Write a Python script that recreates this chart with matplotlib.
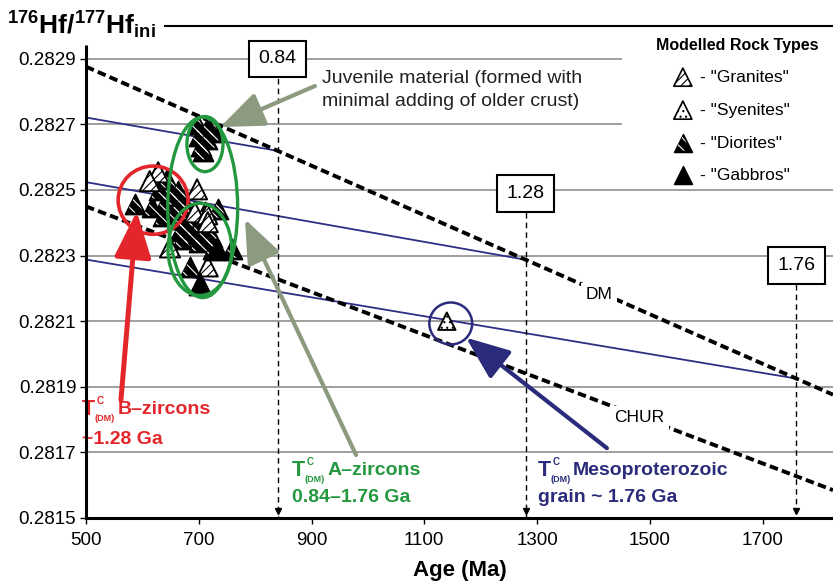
import numpy as np
import matplotlib
matplotlib.use('Agg')
import matplotlib.pyplot as plt
from matplotlib.patches import Ellipse, Rectangle

plt.rcParams['font.family'] = ['Liberation Sans', 'DejaVu Sans']
plt.rcParams['mathtext.fontset'] = 'custom'
plt.rcParams['mathtext.rm'] = 'Liberation Sans'
plt.rcParams['mathtext.bf'] = 'Liberation Sans:bold'
plt.rcParams['mathtext.it'] = 'Liberation Sans:italic'
plt.rcParams['hatch.linewidth'] = 0.8

# ---------------- data ----------------
x_ticks = [500, 700, 900, 1100, 1300, 1500, 1700]
y_ticks = [0.2815, 0.2817, 0.2819, 0.2821, 0.2823, 0.2825, 0.2827, 0.2829]
y_tick_labels = ['0.2815', '0.2817', '0.2819', '0.2821', '0.2823', '0.2825', '0.2827', '0.2829']

dm_age = [500, 1825]
dm_hf = [0.282876, 0.281876]
chur_age = [500, 1825]
chur_hf = [0.282450, 0.281585]

crust_age_start = [500, 500, 500]
crust_hf_start = [0.282721, 0.282524, 0.282288]
tdm_ages = [840, 1280, 1760]
tdm_labels = ['0.84', '1.28', '1.76']
tdm_label_hf = [0.2829, 0.28249, 0.28227]

granite_age = [628, 613, 697, 693, 715, 716, 649, 716]
granite_hf = [0.282554, 0.282527, 0.282502, 0.282432, 0.282426, 0.282402, 0.282325, 0.282267]

diorite_age = [697, 716, 727, 700, 715, 704, 707, 644, 663, 652, 640, 587, 617, 661,
               676, 734, 637, 661, 690, 711, 681, 702, 688, 706, 723, 670, 725, 759,
               684, 672, 685, 668, 700, 630]
diorite_hf = [0.282701, 0.282692, 0.282677, 0.282665, 0.282655, 0.282634, 0.282619,
              0.282533, 0.282496, 0.282481, 0.282463, 0.282457, 0.282447, 0.282441,
              0.282450, 0.282441, 0.282420, 0.282411, 0.282417, 0.282432, 0.282389,
              0.282395, 0.282365, 0.282359, 0.282356, 0.282350, 0.282319, 0.282319,
              0.282264, 0.282470, 0.282430, 0.282380, 0.282340, 0.282500]

gabbro_age = [732, 702]
gabbro_hf = [0.28232, 0.282212]

syenite_age = [1140]
syenite_hf = [0.2821]

# ---------------- colours ----------------
RED = '#e3262b'
GREEN = '#23983f'
NAVY = '#2b2b7b'
ARROW_GRAY = '#8c9a80'
GRID = '#8f8f8f'
BLUE = '#2e2e82'

fig = plt.figure(figsize=(8.33, 5.85), dpi=100)
ax = fig.add_axes([86 / 833, 1 - 518 / 585, 747 / 833, 492 / 585])
ax.set_xlim(500, 1825)
ax.set_ylim(0.2815, 0.2830)

# gridlines
for yv in y_ticks[1:]:
    ax.axhline(yv, color=GRID, lw=1.2, zorder=1)

# crustal evolution lines
dm_at = np.interp(tdm_ages, dm_age, dm_hf)
for a0, h0, a1, h1 in zip(crust_age_start, crust_hf_start, tdm_ages, dm_at):
    ax.plot([a0, a1], [h0, h1], color=BLUE, lw=1.3, zorder=2)

# DM & CHUR
ax.plot(dm_age, dm_hf, color='black', lw=2.8, ls=(0, (2.2, 1.1)), zorder=3)
ax.plot(chur_age, chur_hf, color='black', lw=2.8, ls=(0, (2.2, 1.1)), zorder=3)
ax.text(1410, np.interp(1410, dm_age, dm_hf) - 0.000008, 'DM', fontsize=12.5, ha='center', va='center',
        zorder=4, bbox=dict(facecolor='white', edgecolor='none', pad=3))
ax.text(1482, np.interp(1482, chur_age, chur_hf) - 0.000004, 'CHUR', fontsize=12.5, ha='center', va='center',
        zorder=4, bbox=dict(facecolor='white', edgecolor='none', pad=3))

# model age markers
for a, lab, yl in zip(tdm_ages, tdm_labels, tdm_label_hf):
    ax.plot([a, a], [yl, 0.2815], color='black', lw=1.0, ls=(0, (4, 3)), zorder=4)
    ax.plot([a], [0.28152], marker='v', ms=5, color='black', zorder=4, clip_on=False)
    ax.text(a, yl, lab, fontsize=14, ha='center', va='center', zorder=6,
            bbox=dict(boxstyle='square,pad=0.5', facecolor='white', edgecolor='black', lw=1.5))


def diorite(xs, ys, s, **kw):
    ax.scatter(xs, ys, s=s, marker='^', facecolor='black', edgecolor='black', linewidths=1.2, zorder=5, **kw)
    with plt.rc_context({'hatch.color': 'white'}):
        ax.scatter(xs, ys, s=s * 0.7, marker='^', facecolor='none', edgecolor='white',
                   hatch='\\\\\\', linewidths=0.01, zorder=5, **kw)


# data points
S = 210
diorite(diorite_age, diorite_hf, S)
ax.scatter(granite_age, granite_hf, s=S, marker='^', facecolor='white', edgecolor='black',
           hatch='////', linewidths=1.4, zorder=5)
ax.scatter(gabbro_age, gabbro_hf, s=S * 1.25, marker='^', facecolor='black', edgecolor='black',
           linewidths=1, zorder=5)
ax.scatter(syenite_age, syenite_hf, s=S * 0.75, marker='^', facecolor='white', edgecolor='black',
           hatch='...', linewidths=1.4, zorder=5)

# ellipses / circles
ax.add_patch(Ellipse((619, 0.282469), 124, 0.000208, fill=False, ec=RED, lw=2.6, zorder=6))
ax.add_patch(Ellipse((711, 0.28264), 64, 0.000168, fill=False, ec=GREEN, lw=2.4, zorder=6))
ax.add_patch(Ellipse((707, 0.282447), 124, 0.00055, fill=False, ec=GREEN, lw=2.4, zorder=6))
ax.add_patch(Ellipse((702, 0.282319), 113, 0.000281, fill=False, ec=GREEN, lw=2.4, zorder=6))
ax.add_patch(Ellipse((1147, 0.282093), 76, 0.000128, fill=False, ec=NAVY, lw=1.8, zorder=6))

# arrows
def arrow(tip, tail, color, lw, ms):
    ax.annotate('', xy=tip, xytext=tail, zorder=7, annotation_clip=False,
                arrowprops=dict(arrowstyle='-|>,head_length=1.5,head_width=0.6', color=color,
                                lw=lw, shrinkA=0, shrinkB=0, mutation_scale=ms))

arrow((738, 0.282692), (906, 0.282817), ARROW_GRAY, 3.0, 18)
arrow((782, 0.282411), (979, 0.281692), ARROW_GRAY, 3.0, 18)
arrow((1174, 0.28205), (1424, 0.281713), NAVY, 3.0, 18)
arrow((590, 0.282435), (562, 0.28186), RED, 3.6, 19)

# annotation texts
ax.text(918, 0.282839, 'Juvenile material (formed with', fontsize=14, va='center', ha='left', color='#222222', zorder=7)
ax.text(918, 0.282770, 'minimal adding of older crust)', fontsize=14, va='center', ha='left', color='#222222', zorder=7)


def tdm_text(x, y, rest, color):
    kw = dict(xycoords='data', textcoords='offset points', color=color, fontweight='bold',
              va='center', ha='left', zorder=7, annotation_clip=False)
    ax.annotate('T', (x, y), xytext=(0, 0), fontsize=15.5, **kw)
    ax.annotate('C', (x, y), xytext=(10.5, 6), fontsize=7, **kw)
    ax.annotate('(DM)', (x, y), xytext=(9, -6.5), fontsize=6.5, **kw)
    ax.annotate(rest, (x, y), xytext=(25.5, 0), fontsize=14, **kw)


tdm_text(493, 0.28183, 'B–zircons', RED)
ax.text(493, 0.281738, '~1.28 Ga', fontsize=14, fontweight='bold', color=RED, va='center', ha='left',
        zorder=7, clip_on=False)

tdm_text(865, 0.281646, 'A–zircons', GREEN)
ax.text(865, 0.281564, '0.84–1.76 Ga', fontsize=14, fontweight='bold', color=GREEN, va='center', ha='left', zorder=7)

tdm_text(1301, 0.281646, 'Mesoproterozoic', NAVY)
ax.text(1301, 0.281564, 'grain ~ 1.76 Ga', fontsize=14, fontweight='bold', color=NAVY, va='center', ha='left', zorder=7)

# legend (manual)
ax.add_patch(Rectangle((0.7175, 0.675), 0.2825, 0.317, transform=ax.transAxes, facecolor='white',
                       edgecolor='none', zorder=3.5, clip_on=False))
ax.text(0.8715, 0.961, 'Modelled Rock Types', transform=ax.transAxes, fontsize=11.5, fontweight='bold',
        ha='center', va='center', zorder=8)
leg_y = [0.896, 0.829, 0.762, 0.697]
leg_lab = ['- "Granites"', '- "Syenites"', '- "Diorites"', '- "Gabbros"']
mx = 0.799
ls = 170
ax.scatter([mx], [leg_y[0]], s=ls, marker='^', facecolor='white', edgecolor='black', hatch='////',
           linewidths=1.2, transform=ax.transAxes, zorder=8, clip_on=False)
ax.scatter([mx], [leg_y[1]], s=ls, marker='^', facecolor='white', edgecolor='black', hatch='...',
           linewidths=1.2, transform=ax.transAxes, zorder=8, clip_on=False)
ax.scatter([mx], [leg_y[2]], s=ls, marker='^', facecolor='black', edgecolor='black',
           linewidths=1.0, transform=ax.transAxes, zorder=8, clip_on=False)
with plt.rc_context({'hatch.color': 'white'}):
    ax.scatter([mx], [leg_y[2]], s=ls * 0.7, marker='^', facecolor='none', edgecolor='white', hatch='\\\\\\',
               linewidths=0.01, transform=ax.transAxes, zorder=8, clip_on=False)
ax.scatter([mx], [leg_y[3]], s=ls, marker='^', facecolor='black', edgecolor='black',
           linewidths=1.0, transform=ax.transAxes, zorder=8, clip_on=False)
for yy, lab in zip(leg_y, leg_lab):
    ax.text(0.822, yy, lab, transform=ax.transAxes, fontsize=12.5, ha='left', va='center', zorder=8)

# axes styling
for sp in ['top', 'right', 'left']:
    ax.spines[sp].set_visible(False)
ax.spines['bottom'].set_linewidth(2.2)
ax.plot([0, 0], [0, 0.961], transform=ax.transAxes, color='black', lw=2.2, clip_on=False, zorder=9,
        solid_capstyle='butt')
ax.plot([0.106, 1.0], [1.0, 1.0], transform=ax.transAxes, color='black', lw=1.5, clip_on=False, zorder=9)

ax.set_xticks(x_ticks)
ax.set_xticklabels([str(v) for v in x_ticks])
ax.set_yticks(y_ticks)
ax.set_yticklabels(y_tick_labels)
ax.tick_params(axis='both', labelsize=13.5, length=4, width=1.0, direction='out', colors='black')
ax.tick_params(axis='x', pad=6)
ax.tick_params(axis='y', pad=3)

ax.set_xlabel('Age (Ma)', fontsize=16, fontweight='bold', labelpad=8)
fig.text(0.008, 0.957, r'$^{\mathbf{176}}\mathbf{Hf/}^{\mathbf{177}}\mathbf{Hf}_{\mathbf{ini}}$', fontsize=19,
         ha='left', va='center')

fig.savefig('out.png', dpi=100)
